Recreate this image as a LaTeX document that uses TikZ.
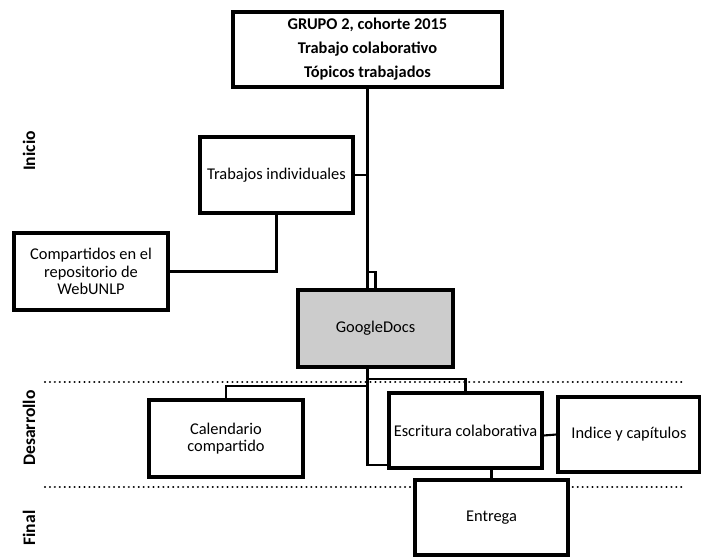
\documentclass[tikz,border=0pt]{standalone}
\usepackage{fontspec}
\setmainfont{Carlito}
\usetikzlibrary{calc, shadows}
\definecolor{boxGray}{HTML}{CCCCCC}

\begin{document}
\begin{tikzpicture}[
    x=0.03cm, y=-0.03cm,
    box/.style={draw, line width=2.8pt, fill=white, align=center,
                font=\fontsize{14}{15}\selectfont, inner sep=2pt,
                minimum width=4.59cm, minimum height=2.25cm,
                drop shadow={shadow xshift=0.8pt, shadow yshift=-0.8pt, opacity=0.3}},
    conn/.style={draw, line width=1.8pt},
    phase/.style={font=\bfseries\fontsize{15}{17}\selectfont, rotate=90},
    sep/.style={line width=2pt, dash pattern=on 0.01pt off 4.2pt, line cap=round},
  ]
    \useasboundingbox (0,0) rectangle (701,556);

    % phase separators
    \draw[sep] (45,382) -- (683,382);
    \draw[sep] (45,487) -- (683,487);
    \node[phase] (inicio) at (29,151) {Inicio};
    \node[phase] (desarrollo) at (29,428) {Desarrollo};
    \node[phase] (final) at (29,528) {Final};

    % boxes
    \node[box, minimum width=8.07cm, font=\bfseries\fontsize{14}{20.4}\selectfont]
      (top) at (367.5,49.5) {GRUPO 2, cohorte 2015\\Trabajo colaborativo\\Tópicos trabajados};
    \node[box, minimum height=2.28cm] (trab) at (276.5,175) {Trabajos individuales};
    \node[box, minimum width=4.62cm, minimum height=2.31cm] (comp) at (91,271.5)
      {Compartidos en el\\repositorio de\\WebUNLP};
    \node[box, fill=boxGray, minimum width=4.65cm, minimum height=2.31cm] (gdocs) at (375.5,328.5) {GoogleDocs};
    \node[box, minimum width=4.62cm, minimum height=2.31cm] (cal) at (226,438.5) {Calendario\\compartido};
    \node[box, minimum width=4.26cm] (ind) at (629,434.5) {Indice y capítulos};
    \node[box] (ent) at (491.5,517.5) {Entrega};
    \node[box, inner sep=0pt] (escr) at (465.5,430.5) {Escritura colaborativa};

    % connectors
    \coordinate (trunk) at (gdocs.south -| top.south);
    \draw[conn] (top.south) -- (top.south |- gdocs.north);
    \draw[conn] ($(top.south |- gdocs.north)+(0,-16)$) -| (gdocs.north);
    \draw[conn] (trab.east) -- (trab.east -| top.south);
    \draw[conn] (comp.east) -| (trab.south);
    \draw[conn] (trunk) |- ($(escr.south west)+(0,-5)$);
    \draw[conn] ($(trunk)+(0,17)$) -| (cal.north);
    \draw[conn] ($(trunk)+(0,10)$) -| (escr.north);
    \draw[conn] ($(escr.east)+(0,5)$) -- (ind.west);
    \draw[conn] (escr.south -| ent.north) -- (ent.north);
\end{tikzpicture}
\end{document}
